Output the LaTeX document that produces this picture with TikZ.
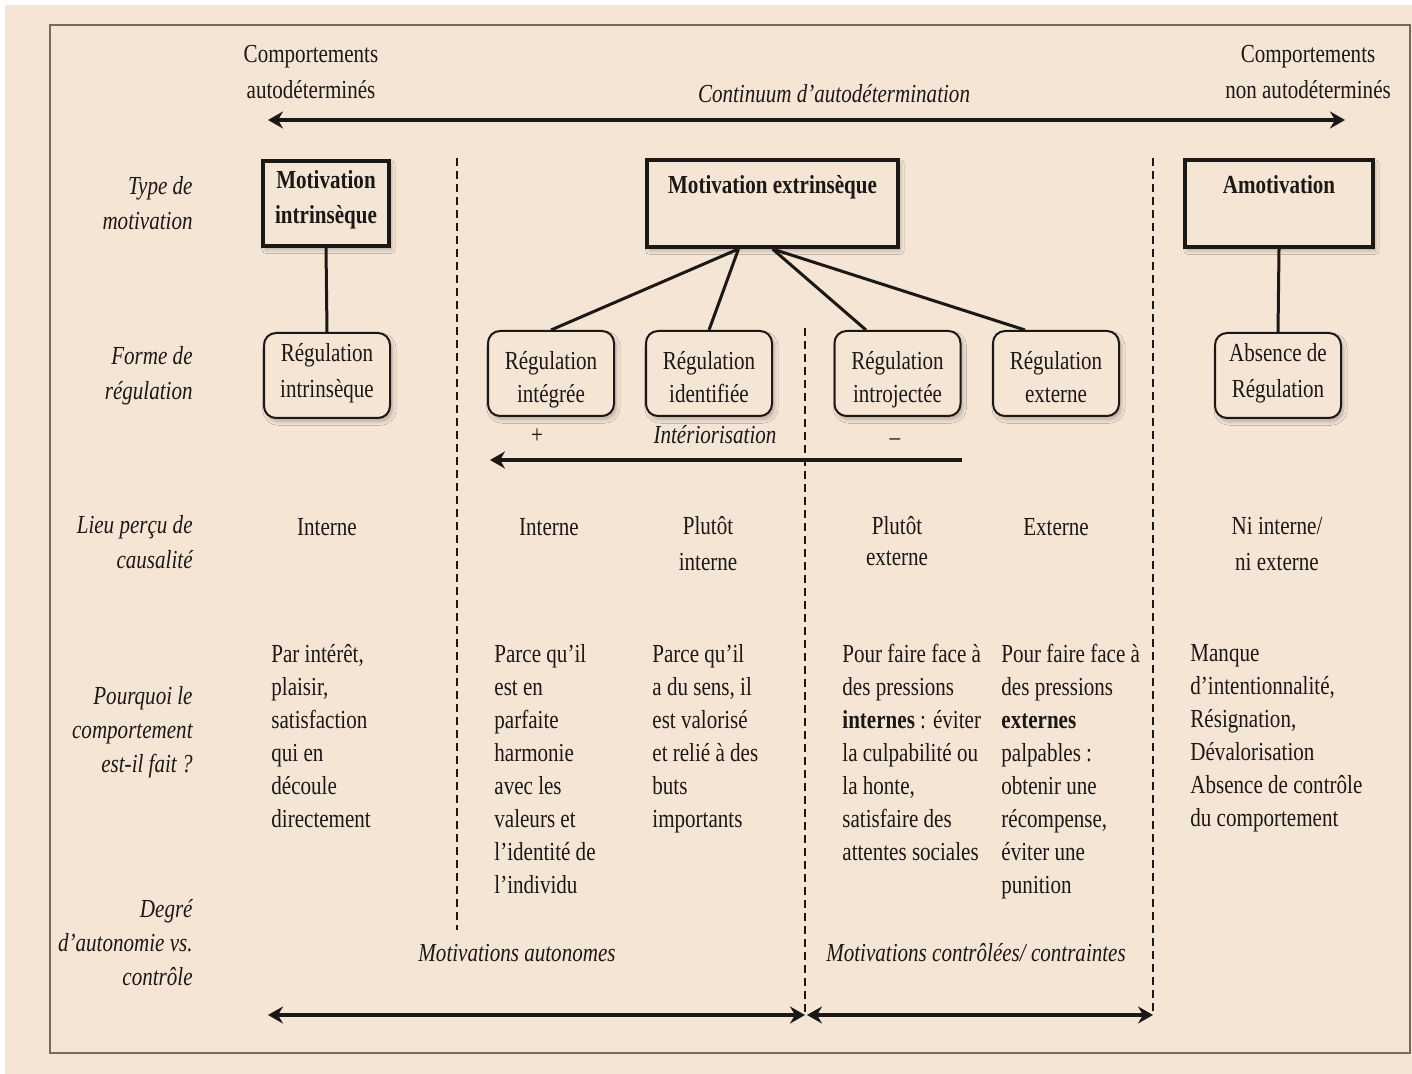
\documentclass[tikz,border=0pt]{standalone}
\usepackage{fontspec}
\setmainfont[FakeStretch=0.81]{Liberation Serif}
\usetikzlibrary{arrows.meta,shadows.blur}
\definecolor{paper}{RGB}{244,229,213}
\definecolor{framec}{RGB}{120,105,92}
\definecolor{ink}{RGB}{28,24,22}
\begin{document}
\begin{tikzpicture}[x=0.5pt,y=-0.5pt,
		every node/.style={inner sep=0pt,text=ink,font=\fontsize{13}{17}\selectfont},
		lab/.style={anchor=north east,align=right,font=\fontsize{13}{17.5}\selectfont\itshape,execute at begin node=\strut},
		txt/.style={anchor=north west,align=left,font=\fontsize{13}{16.5}\selectfont,execute at begin node=\strut},
		lieu/.style={anchor=north,align=center,font=\fontsize{13}{18}\selectfont,execute at begin node=\strut},
		mbox/.style={draw=ink,line width=2pt,fill=paper,align=center,font=\fontsize{13}{17.5}\selectfont\bfseries,
			blur shadow={shadow xshift=1.2pt,shadow yshift=-1.8pt,shadow opacity=25,shadow blur steps=6}},
		rbox/.style={draw=ink,line width=1pt,fill=paper,rounded corners=6pt,align=center,minimum width=63pt,minimum height=42.5pt,
			execute at begin node={\rule{0pt}{#1}},execute at end node=\strut,
			blur shadow={shadow xshift=1.2pt,shadow yshift=-1.8pt,shadow opacity=25,shadow blur steps=6}},
		rbox/.default=0pt,
		conn/.style={draw=ink,line width=1.5pt},
		big/.style={draw=ink,line width=2pt},
		sep/.style={draw=ink,line width=0.8pt,dash pattern=on 4pt off 2.5pt}]
		\useasboundingbox (0,0) rectangle (1412,1074);
		\fill[white] (0,0) rectangle (1412,1074);
		\fill[paper] (5,5) rectangle (1412,1074);
		\draw[framec,line width=0.8pt] (50,25) rectangle (1410,1053);
		\coordinate (cl) at (268,120);
		\coordinate (cr) at (1345,120);
		\coordinate (ia) at (962,460);
		\coordinate (ib) at (490,460);
		\coordinate (al) at (268,1015);
		\coordinate (am) at (805,1015);
		\coordinate (am2) at (807,1015);
		\coordinate (ar) at (1153,1015);
		\coordinate (d1t) at (457,158);
		\coordinate (d1b) at (457,930);
		\coordinate (d2t) at (805,328);
		\coordinate (d2b) at (805,1015);
		\coordinate (d3t) at (1153,158);
		\coordinate (d3b) at (1153,1015);
		\draw[sep] (d1t) -- (d1b);
		\draw[sep] (d2t) -- (d2b);
		\draw[sep] (d3t) -- (d3b);
		\node[lieu] (cad) at (311,45) {Comportements\\autodéterminés};
		\node[lieu] (cnad) at (1308,45) {Comportements\\non autodéterminés};
		\node[anchor=base,font=\fontsize{13}{17}\selectfont\itshape] (cont) at (834,103) {Continuum d’autodétermination};
		\draw[big,{Stealth[length=7.5pt,width=8.5pt,inset=2.5pt]}-{Stealth[length=7.5pt,width=8.5pt,inset=2.5pt]}] (cl) -- (cr);
		\node[lab] (ltype) at (193,176.5) {Type de\\motivation};
		\node[lab] (lforme) at (193,346.5) {Forme de\\régulation};
		\node[lab] (llieu) at (193,515.5) {Lieu perçu de\\causalité};
		\node[lab,font=\fontsize{13}{17}\selectfont\itshape] (lpq) at (193,686) {Pourquoi le\\comportement\\est-il fait ?};
		\node[lab,font=\fontsize{13}{17}\selectfont\itshape] (ldeg) at (193,899) {Degré\\d’autonomie vs.\\contrôle};
		\node[mbox,minimum width=63pt,minimum height=42.5pt,execute at begin node=\strut,execute at end node={\rule[-7pt]{0pt}{7pt}}] (mi) at (326,203.5) {Motivation\\intrinsèque};
		\node[mbox,anchor=north,minimum width=125.5pt,text height=17pt,text depth=26.5pt] (me) at (772.5,158) {Motivation extrinsèque};
		\node[mbox,anchor=north,minimum width=94pt,text height=17pt,text depth=26.5pt] (ma) at (1279,158) {Amotivation};
		\node[rbox,font=\fontsize{13}{18}\selectfont] (ri) at (327,375.5) {Régulation\\intrinsèque};
		\node[rbox=33.5pt,font=\fontsize{13}{16.5}\selectfont] (rg) at (551,373.5) {Régulation\\intégrée};
		\node[rbox=33.5pt,font=\fontsize{13}{16.5}\selectfont] (rd) at (709,373.5) {Régulation\\identifiée};
		\node[rbox=33.5pt,font=\fontsize{13}{16.5}\selectfont] (rj) at (897.5,373.5) {Régulation\\introjectée};
		\node[rbox=33.5pt,font=\fontsize{13}{16.5}\selectfont] (re) at (1056,373.5) {Régulation\\externe};
		\node[rbox,font=\fontsize{13}{18}\selectfont] (ra) at (1278,375.5) {Absence de\\Régulation};
		\draw[conn] (mi.south) -- (ri.north);
		\draw[conn] (ma.south) -- (ra.north);
		\draw[conn] ([xshift=-17pt]me.south) -- (rg.north);
		\draw[conn] ([xshift=-17pt]me.south) -- (rd.north);
		\draw[conn] (me.south) -- ([xshift=-15.75pt]rj.north);
		\draw[conn] (me.south) -- ([xshift=-15.5pt]re.north);
		\node[anchor=base] (plus) at (537,444) {+};
		\node[anchor=base,font=\fontsize{13}{17}\selectfont\itshape] (inter) at (715,444) {Intériorisation};
		\node[anchor=base] (moins) at (895,445) {–};
		\draw[big,-{Stealth[length=7.5pt,width=8.5pt,inset=2.5pt]}] (ia) -- (ib);
		\node[anchor=base] (c1) at (327,535) {Interne};
		\node[anchor=base] (c2) at (549,535) {Interne};
		\node[lieu] (c3) at (708,516) {Plutôt\\interne};
		\node[lieu,font=\fontsize{13}{15.5}\selectfont] (c4) at (897,516) {Plutôt\\externe};
		\node[anchor=base] (c5) at (1056,535) {Externe};
		\node[lieu] (c6) at (1277,517) {Ni interne/\\ni externe};
		\node[txt] (p1) at (271,644) {Par intérêt,\\plaisir,\\satisfaction\\qui en\\découle\\directement};
		\node[txt] (p2) at (494,644) {Parce qu’il\\est en\\parfaite\\harmonie\\avec les\\valeurs et\\l’identité de\\l’individu};
		\node[txt] (p3) at (652,644) {Parce qu’il\\a du sens, il\\est valorisé\\et relié à des\\buts\\importants};
		\node[txt] (p4) at (842,644) {Pour faire face à\\des pressions\\\textbf{internes} : éviter\\la culpabilité ou\\la honte,\\satisfaire des\\attentes sociales};
		\node[txt] (p5) at (1001,644) {Pour faire face à\\des pressions\\\textbf{externes}\\palpables :\\obtenir une\\récompense,\\éviter une\\punition};
		\node[txt] (p6) at (1190,644) {Manque\\d’intentionnalité,\\Résignation,\\Dévalorisation\\Absence de contrôle\\du comportement};
		\node[anchor=base,font=\fontsize{13}{17}\selectfont\itshape] (mauto) at (517,961) {Motivations autonomes};
		\node[anchor=base,font=\fontsize{13}{17}\selectfont\itshape] (mctrl) at (976,961) {Motivations contrôlées/ contraintes};
		\draw[big,{Stealth[length=7.5pt,width=8.5pt,inset=2.5pt]}-{Stealth[length=7.5pt,width=8.5pt,inset=2.5pt]}] (al) -- (am);
		\draw[big,{Stealth[length=7.5pt,width=8.5pt,inset=2.5pt]}-{Stealth[length=7.5pt,width=8.5pt,inset=2.5pt]}] (am2) -- (ar);
	\end{tikzpicture}
\end{document}
